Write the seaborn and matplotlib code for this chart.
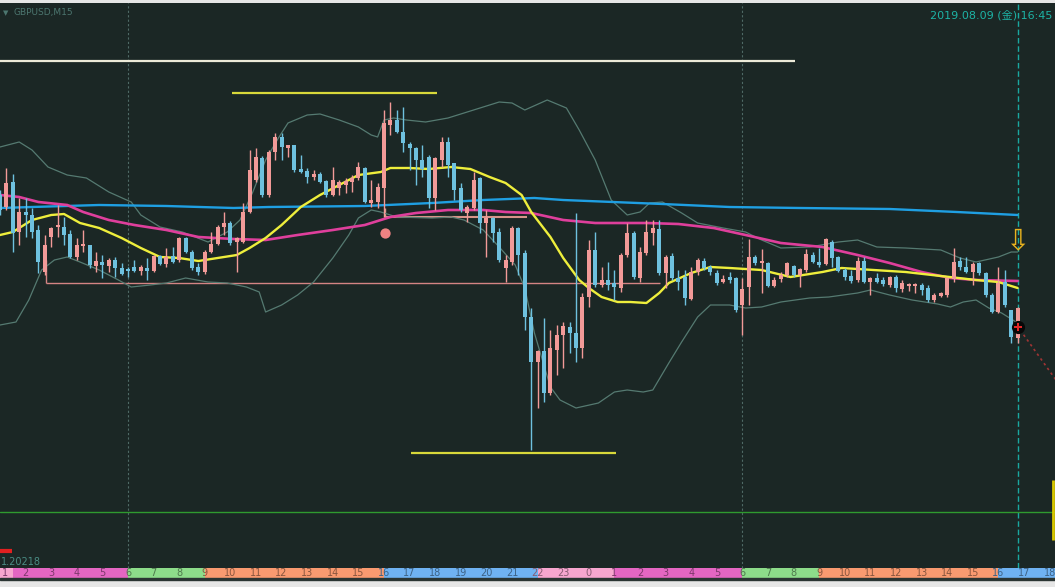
import numpy as np
import pandas as pd
import seaborn as sns
import matplotlib.pyplot as plt

# GBPUSD M15 : bar 0 = 08/08 01:00 ... bar 159 = 08/09 16:45
bar_open = [1.20805, 1.20793, 1.20818, 1.20768, 1.20788, 1.20785, 1.20770, 1.20728, 1.20763, 1.20773,
            1.20773, 1.20766, 1.20743, 1.20754, 1.20755, 1.20734, 1.20738, 1.20734, 1.20740, 1.20732,
            1.20731, 1.20733, 1.20729, 1.20732, 1.20729, 1.20744, 1.20736, 1.20744, 1.20740, 1.20762,
            1.20748, 1.20733, 1.20728, 1.20748, 1.20756, 1.20773, 1.20777, 1.20758, 1.20758, 1.20788,
            1.20820, 1.20842, 1.20805, 1.20848, 1.20863, 1.20852, 1.20855, 1.20831, 1.20829, 1.20823,
            1.20826, 1.20819, 1.20805, 1.20812, 1.20815, 1.20818, 1.20822, 1.20832, 1.20797, 1.20798,
            1.20812, 1.20875, 1.20880, 1.20868, 1.20856, 1.20852, 1.20840, 1.20843, 1.20802, 1.20840,
            1.20858, 1.20837, 1.20812, 1.20787, 1.20792, 1.20822, 1.20777, 1.20782, 1.20768, 1.20732,
            1.20738, 1.20772, 1.20747, 1.20683, 1.20638, 1.20649, 1.20607, 1.20650, 1.20665, 1.20673,
            1.20667, 1.20652, 1.20703, 1.20750, 1.20715, 1.20720, 1.20717, 1.20712, 1.20745, 1.20767,
            1.20722, 1.20747, 1.20767, 1.20771, 1.20727, 1.20744, 1.20722, 1.20723, 1.20701, 1.20728,
            1.20739, 1.20733, 1.20727, 1.20718, 1.20723, 1.20722, 1.20695, 1.20713, 1.20743, 1.20737,
            1.20737, 1.20714, 1.20721, 1.20725, 1.20734, 1.20725, 1.20730, 1.20745, 1.20738, 1.20736,
            1.20758, 1.20743, 1.20730, 1.20724, 1.20720, 1.20739, 1.20718, 1.20722, 1.20720, 1.20715,
            1.20723, 1.20711, 1.20714, 1.20714, 1.20715, 1.20712, 1.20700, 1.20704, 1.20705, 1.20721,
            1.20739, 1.20733, 1.20728, 1.20737, 1.20727, 1.20705, 1.20688, 1.20718, 1.20690, 1.20662]
bar_close = [1.20790, 1.20817, 1.20767, 1.20788, 1.20785, 1.20768, 1.20738, 1.20755, 1.20772, 1.20774,
             1.20765, 1.20743, 1.20755, 1.20755, 1.20735, 1.20739, 1.20735, 1.20740, 1.20732, 1.20726,
             1.20729, 1.20729, 1.20733, 1.20729, 1.20744, 1.20736, 1.20743, 1.20738, 1.20762, 1.20748,
             1.20732, 1.20728, 1.20748, 1.20756, 1.20773, 1.20777, 1.20757, 1.20762, 1.20788, 1.20830,
             1.20843, 1.20805, 1.20848, 1.20863, 1.20853, 1.20855, 1.20830, 1.20828, 1.20823, 1.20826,
             1.20818, 1.20805, 1.20820, 1.20818, 1.20819, 1.20822, 1.20833, 1.20798, 1.20800, 1.20813,
             1.20877, 1.20880, 1.20868, 1.20857, 1.20852, 1.20840, 1.20831, 1.20802, 1.20842, 1.20858,
             1.20835, 1.20810, 1.20790, 1.20793, 1.20820, 1.20777, 1.20782, 1.20767, 1.20740, 1.20740,
             1.20772, 1.20745, 1.20683, 1.20638, 1.20649, 1.20607, 1.20652, 1.20665, 1.20674, 1.20667,
             1.20652, 1.20703, 1.20750, 1.20715, 1.20720, 1.20715, 1.20713, 1.20745, 1.20767, 1.20723,
             1.20748, 1.20768, 1.20772, 1.20727, 1.20743, 1.20722, 1.20718, 1.20702, 1.20728, 1.20740,
             1.20732, 1.20728, 1.20717, 1.20721, 1.20720, 1.20690, 1.20711, 1.20743, 1.20737, 1.20739,
             1.20714, 1.20720, 1.20725, 1.20737, 1.20725, 1.20731, 1.20746, 1.20738, 1.20735, 1.20761,
             1.20742, 1.20729, 1.20723, 1.20719, 1.20739, 1.20718, 1.20722, 1.20718, 1.20716, 1.20723,
             1.20712, 1.20717, 1.20716, 1.20716, 1.20710, 1.20700, 1.20705, 1.20707, 1.20722, 1.20738,
             1.20733, 1.20728, 1.20736, 1.20727, 1.20705, 1.20688, 1.20717, 1.20695, 1.20663, 1.20692]
bar_high = [1.20810, 1.20832, 1.20826, 1.20802, 1.20802, 1.20792, 1.20775, 1.20765, 1.20773, 1.20795,
            1.20783, 1.20770, 1.20762, 1.20770, 1.20755, 1.20748, 1.20745, 1.20742, 1.20743, 1.20737,
            1.20733, 1.20740, 1.20735, 1.20742, 1.20745, 1.20745, 1.20752, 1.20753, 1.20763, 1.20763,
            1.20750, 1.20737, 1.20750, 1.20768, 1.20775, 1.20788, 1.20779, 1.20763, 1.20797, 1.20850,
            1.20852, 1.20844, 1.20850, 1.20867, 1.20867, 1.20855, 1.20855, 1.20845, 1.20832, 1.20830,
            1.20828, 1.20820, 1.20833, 1.20820, 1.20822, 1.20825, 1.20838, 1.20833, 1.20820, 1.20817,
            1.20890, 1.20898, 1.20890, 1.20893, 1.20858, 1.20853, 1.20855, 1.20845, 1.20843, 1.20863,
            1.20863, 1.20837, 1.20817, 1.20795, 1.20828, 1.20823, 1.20790, 1.20783, 1.20772, 1.20745,
            1.20774, 1.20773, 1.20750, 1.20692, 1.20650, 1.20682, 1.20670, 1.20675, 1.20678, 1.20678,
            1.20787, 1.20707, 1.20760, 1.20768, 1.20733, 1.20738, 1.20730, 1.20747, 1.20777, 1.20769,
            1.20753, 1.20780, 1.20780, 1.20780, 1.20745, 1.20747, 1.20730, 1.20730, 1.20733, 1.20742,
            1.20742, 1.20735, 1.20730, 1.20725, 1.20728, 1.20723, 1.20722, 1.20761, 1.20745, 1.20751,
            1.20738, 1.20723, 1.20728, 1.20738, 1.20735, 1.20732, 1.20751, 1.20748, 1.20752, 1.20762,
            1.20760, 1.20744, 1.20732, 1.20730, 1.20743, 1.20743, 1.20723, 1.20727, 1.20723, 1.20724,
            1.20725, 1.20720, 1.20717, 1.20717, 1.20717, 1.20715, 1.20707, 1.20708, 1.20723, 1.20752,
            1.20743, 1.20743, 1.20738, 1.20738, 1.20728, 1.20707, 1.20733, 1.20730, 1.20690, 1.20693]
bar_low = [1.20785, 1.20790, 1.20748, 1.20755, 1.20763, 1.20762, 1.20727, 1.20725, 1.20753, 1.20763,
           1.20755, 1.20742, 1.20740, 1.20748, 1.20732, 1.20728, 1.20722, 1.20728, 1.20723, 1.20725,
           1.20723, 1.20728, 1.20725, 1.20720, 1.20728, 1.20735, 1.20733, 1.20737, 1.20738, 1.20747,
           1.20730, 1.20725, 1.20726, 1.20747, 1.20755, 1.20765, 1.20755, 1.20728, 1.20757, 1.20787,
           1.20818, 1.20803, 1.20803, 1.20840, 1.20840, 1.20843, 1.20828, 1.20827, 1.20817, 1.20820,
           1.20817, 1.20803, 1.20804, 1.20805, 1.20807, 1.20808, 1.20820, 1.20797, 1.20793, 1.20792,
           1.20783, 1.20865, 1.20867, 1.20848, 1.20830, 1.20815, 1.20823, 1.20792, 1.20790, 1.20833,
           1.20823, 1.20800, 1.20788, 1.20778, 1.20790, 1.20767, 1.20743, 1.20758, 1.20738, 1.20718,
           1.20735, 1.20725, 1.20670, 1.20550, 1.20592, 1.20598, 1.20605, 1.20625, 1.20632, 1.20647,
           1.20638, 1.20642, 1.20693, 1.20713, 1.20713, 1.20710, 1.20700, 1.20708, 1.20743, 1.20721,
           1.20718, 1.20745, 1.20755, 1.20725, 1.20712, 1.20720, 1.20710, 1.20695, 1.20700, 1.20725,
           1.20730, 1.20725, 1.20715, 1.20717, 1.20717, 1.20688, 1.20665, 1.20695, 1.20735, 1.20707,
           1.20713, 1.20713, 1.20718, 1.20723, 1.20723, 1.20713, 1.20728, 1.20737, 1.20733, 1.20735,
           1.20733, 1.20728, 1.20720, 1.20717, 1.20718, 1.20717, 1.20705, 1.20717, 1.20714, 1.20713,
           1.20708, 1.20708, 1.20709, 1.20707, 1.20705, 1.20698, 1.20698, 1.20703, 1.20703, 1.20718,
           1.20730, 1.20727, 1.20715, 1.20725, 1.20703, 1.20687, 1.20687, 1.20693, 1.20657, 1.20657]

# moving averages / bands, read at bar positions
ma_fast_x = [0, 2, 5, 8, 10, 12.5, 15.5, 19, 22, 25, 28, 31, 34, 37, 39, 41.5, 44, 47, 50, 53, 56, 59.5,
             61, 64, 67, 70.5, 73.5, 76.5, 79, 81.5, 83, 86, 88, 90.5, 92, 94, 96.5, 98.5, 101, 103,
             104.5, 108, 111, 114, 119, 123.5, 128.5, 131.5, 136.5, 141.5, 147, 152.5, 156, 159]
ma_fast_y = [1.20765, 1.20768, 1.20780, 1.20785, 1.20786, 1.20777, 1.20772, 1.20762, 1.20752, 1.20743,
             1.20742, 1.20739, 1.20742, 1.20745, 1.20752, 1.20762, 1.20775, 1.20793, 1.20805, 1.20815,
             1.20825, 1.20828, 1.20832, 1.20832, 1.20831, 1.20833, 1.20831, 1.20823, 1.20817, 1.20805,
             1.20788, 1.20763, 1.20742, 1.20720, 1.20712, 1.20703, 1.20698, 1.20698, 1.20697, 1.20707,
             1.20717, 1.20727, 1.20733, 1.20732, 1.20730, 1.20723, 1.20728, 1.20732, 1.20730, 1.20728,
             1.20724, 1.20720, 1.20718, 1.20712]
ma_mid_x = [0, 3, 6, 10.5, 13, 17, 21, 26, 31, 36.5, 41.5, 46.5, 52, 57, 61, 65, 70, 75.5, 79, 83, 88,
            93, 101, 106, 111.5, 116.5, 122, 128.5, 134, 139, 144, 148.5, 152.5, 159]
ma_mid_y = [1.20805, 1.20803, 1.20798, 1.20795, 1.20788, 1.20780, 1.20775, 1.20770, 1.20763, 1.20761,
            1.20760, 1.20765, 1.20770, 1.20775, 1.20783, 1.20787, 1.20790, 1.20790, 1.20788, 1.20787,
            1.20780, 1.20777, 1.20777, 1.20776, 1.20772, 1.20765, 1.20757, 1.20753, 1.20745, 1.20737,
            1.20728, 1.20722, 1.20720, 1.20719]
ma_slow_x = [0, 5, 15.5, 26, 36.5, 42, 57, 67.5, 75.5, 83.5, 88, 103.5, 114, 125, 139, 149.5, 159]
ma_slow_y = [1.20792, 1.20793, 1.20795, 1.20794, 1.20792, 1.20793, 1.20794, 1.20797, 1.20800, 1.20802,
             1.20800, 1.20796, 1.20793, 1.20792, 1.20791, 1.20788, 1.20785]
bb_up_x = [0, 3, 5, 7.5, 10.5, 13.5, 17, 20.5, 22, 25, 28.5, 32.5, 35.5, 37.5, 39.5, 41.5, 43.5, 45,
           48, 50, 53, 56, 58, 59, 60, 61.5, 63.5, 66.5, 70, 74, 78, 80, 82, 85.5, 88.5, 90.5, 93,
           95.5, 98, 100, 101.5, 103.5, 106.5, 109, 113, 116.5, 119, 122, 126.5, 131, 134, 137,
           141.5, 147, 150, 152.5, 156, 158, 159]
bb_up_y = [1.20853, 1.20858, 1.20850, 1.20833, 1.20825, 1.20822, 1.20808, 1.20798, 1.20785, 1.20773,
           1.20768, 1.20758, 1.20768, 1.20780, 1.20808, 1.20840, 1.20862, 1.20877, 1.20885, 1.20886,
           1.20880, 1.20873, 1.20865, 1.20863, 1.20880, 1.20882, 1.20880, 1.20878, 1.20882, 1.20890,
           1.20898, 1.20897, 1.20890, 1.20900, 1.20892, 1.20870, 1.20840, 1.20800, 1.20785, 1.20788,
           1.20797, 1.20798, 1.20787, 1.20777, 1.20772, 1.20768, 1.20760, 1.20752, 1.20753, 1.20758,
           1.20760, 1.20753, 1.20752, 1.20750, 1.20742, 1.20738, 1.20743, 1.20748, 1.20748]
bb_lo_x = [0, 2.5, 4.5, 6.5, 8.5, 10.5, 12.5, 15.5, 18.5, 20.5, 23.5, 26, 29, 32.5, 35.5, 38.5, 40.5,
           41.5, 44, 46.5, 49, 52, 54.5, 56, 58, 59.5, 62, 67.5, 70.5, 72.5, 75.5, 78, 80.5, 82, 83.5,
           86, 87.5, 90, 93.5, 96, 98, 100.5, 102, 104.5, 106.5, 109, 111, 114, 116.5, 119, 122,
           126.5, 129.5, 134, 136, 139, 142.5, 146.5, 148.5, 150.5, 152.5, 154.5, 156.5, 159]
bb_lo_y = [1.20675, 1.20678, 1.20700, 1.20730, 1.20740, 1.20743, 1.20738, 1.20730, 1.20720, 1.20713,
           1.20715, 1.20717, 1.20722, 1.20718, 1.20717, 1.20713, 1.20708, 1.20688, 1.20695, 1.20705,
           1.20718, 1.20742, 1.20765, 1.20782, 1.20790, 1.20788, 1.20783, 1.20782, 1.20783, 1.20780,
           1.20770, 1.20753, 1.20735, 1.20712, 1.20667, 1.20613, 1.20600, 1.20592, 1.20597, 1.20608,
           1.20610, 1.20608, 1.20610, 1.20637, 1.20658, 1.20683, 1.20695, 1.20695, 1.20692, 1.20693,
           1.20698, 1.20702, 1.20703, 1.20707, 1.20710, 1.20705, 1.20700, 1.20696, 1.20693, 1.20698,
           1.20700, 1.20692, 1.20687, 1.20677]

# drawn objects
white_line = (1.20939, 0, 124.2)
yellow_top = (1.20907, 36.2, 68.3)
yellow_bottom = (1.20547, 64.2, 96.2)
green_line = 1.20488
range_low = (1.20717, 7.2, 103.1)
range_high = (1.20783, 60.2, 82.3)
dot_mark = (60.2, 1.20767)
arrow_mark = (159, 1.20759)
entry_mark = (159, 1.20673)
proj_x = [159.4, 166.0]
proj_y = [1.20670, 1.20611]
day_breaks = [20, 116]
now_bar = 159

hour_labels = ['1', '2', '3', '4', '5', '6', '7', '8', '9', '10', '11', '12', '13', '14', '15', '16',
               '17', '18', '19', '20', '21', '22', '23', '0', '1', '2', '3', '4', '5', '6', '7', '8',
               '9', '10', '11', '12', '13', '14', '15', '16', '17', '18']

sns.set_theme(style='dark')
plt.rcParams['font.family'] = ['DejaVu Sans', 'Noto Sans CJK JP']

BG = '#1b2725'
PINK = '#f29a98'
BLUE = '#6ec1df'

fig = plt.figure(figsize=(10.55, 5.87), dpi=100)
fig.patch.set_facecolor('#e6e6e6')
ax = fig.add_axes([0, 19 / 587, 1, 565 / 587])
ax.set_facecolor(BG)
for s in ax.spines.values():
    s.set_visible(False)
ax.set_xlim(0, 164.84)
ax.set_ylim(1.20432, 1.20997)
ax.set_xticks([])
ax.set_yticks([])
ax.grid(False)

# separators
for d in day_breaks:
    ax.axvline(d, color='#4f6a66', lw=0.8, ls=(0, (2, 2)), zorder=1)
ax.axvline(now_bar, color='#1aa8a0', lw=1.0, ls=(0, (4, 2)), zorder=1)

# horizontal objects
ax.hlines(white_line[0], white_line[1], white_line[2], color='#ecead8', lw=1.6, zorder=2)
ax.hlines(yellow_top[0], yellow_top[1], yellow_top[2], color='#d8d83a', lw=1.6, zorder=2)
ax.hlines(yellow_bottom[0], yellow_bottom[1], yellow_bottom[2], color='#d8d83a', lw=1.6, zorder=2)
ax.axhline(green_line, color='#2f9a2f', lw=1.0, zorder=2)
ax.hlines(range_low[0], range_low[1], range_low[2], color='#d48484', lw=1.0, zorder=2)
ax.vlines(range_low[1], range_low[0], 1.20740, color='#d48484', lw=1.0, zorder=2)
ax.hlines(range_high[0], range_high[1], range_high[2], color='#d8948a', lw=1.5, zorder=2)
ax.vlines(range_high[1], range_high[0], 1.20792, color='#d8948a', lw=1.0, zorder=2)

# bands and averages
lw_band = 0.9
sns.lineplot(x=bb_up_x, y=bb_up_y, ax=ax, color='#557a71', lw=lw_band, zorder=3)
sns.lineplot(x=bb_lo_x, y=bb_lo_y, ax=ax, color='#557a71', lw=lw_band, zorder=3)
sns.lineplot(x=ma_slow_x, y=ma_slow_y, ax=ax, color='#1f9fe2', lw=1.7, zorder=4)
sns.lineplot(x=ma_mid_x, y=ma_mid_y, ax=ax, color='#df3f9c', lw=1.9, zorder=4)
sns.lineplot(x=ma_fast_x, y=ma_fast_y, ax=ax, color='#eeee3c', lw=1.7, zorder=4)

# candles
o = np.array(bar_open)
c = np.array(bar_close)
h = np.array(bar_high)
l = np.array(bar_low)
xs = np.arange(len(o))
cols = np.where(c >= o, PINK, BLUE)
ax.vlines(xs, l, h, colors=cols, lw=1.0, zorder=5)
body = np.maximum(np.abs(c - o), 0.000018)
ax.bar(xs, body, bottom=np.minimum(o, c), width=0.64, color=cols, linewidth=0, zorder=6)

# marks
ax.scatter([dot_mark[0]], [dot_mark[1]], s=55, color='#f08282', zorder=7, linewidths=0)
ax.text(arrow_mark[0], arrow_mark[1], '\u21e9', color='#e8b21e', fontsize=21,
        ha='center', va='center', zorder=8)
ax.scatter([entry_mark[0]], [entry_mark[1]], s=90, color='#080808', zorder=7, linewidths=0)
ax.scatter([entry_mark[0]], [entry_mark[1]], s=28, marker='P', color='#e02828', zorder=8, linewidths=0)
ax.plot(proj_x, proj_y, color='#a03434', lw=1.2, ls=(0, (1.5, 2)), zorder=5)
ax.vlines(164.6, 1.20460, 1.20520, color='#d8c800', lw=2, zorder=5)

# price text at the bottom left
ax.hlines(1.20449, 0, 1.9, color='#e02020', lw=3, zorder=5)
ax.text(0.1, 1.20433, '1.20218', color='#4a8c84', fontsize=7, ha='left', va='bottom',
        clip_on=True, zorder=5)

fig.text(3 / 1055, 1 - 13 / 587, '\u25bc', color='#4c766f', fontsize=5, ha='left', va='center')
fig.text(14 / 1055, 1 - 13 / 587, 'GBPUSD,M15', color='#4c766f', fontsize=6.5, ha='left', va='center')
fig.text(1052 / 1055, 1 - 15 / 587, '2019.08.09 (金) 16:45', color='#1db3a5', fontsize=8,
         ha='right', va='center')

# time scale strip with session colours
session_col = {'late': '#f7a6cf', 'asia': '#e466c2', 'pre': '#8ddc8a', 'london': '#f99a70', 'ny': '#6fb2f2'}
hour_session = {}
for hr in range(24):
    if hr in (22, 23, 0):
        hour_session[hr] = 'late'
    elif hr < 6:
        hour_session[hr] = 'asia'
    elif hr < 9:
        hour_session[hr] = 'pre'
    elif hr < 16:
        hour_session[hr] = 'london'
    else:
        hour_session[hr] = 'ny'

axt = fig.add_axes([0, 9 / 587, 1, 10 / 587])
axt.set_xlim(0, 164.84)
axt.set_ylim(0, 1)
axt.axis('off')
axt.axvspan(0, 2, color=session_col['late'], lw=0)
for k, lab in enumerate(hour_labels):
    col = session_col[hour_session[int(lab)]]
    axt.axvspan(max(4 * k, 2 if k == 0 else 0), 4 * k + 4, color=col, lw=0)
for k, lab in enumerate(hour_labels):
    col = session_col[hour_session[int(lab)]]
    dark = tuple(v * 0.55 for v in plt.matplotlib.colors.to_rgb(col))
    xpos, ha = (0.3, 'left') if k == 0 else (4 * k, 'center')
    axt.text(xpos, 0.45, lab, color=dark, fontsize=7, ha=ha, va='center')

fig.patches.append(plt.Rectangle((0, 7 / 587), 1, 2 / 587, transform=fig.transFigure,
                                 color='#2a3432', zorder=0))

plt.savefig('out.png', dpi=100, facecolor=fig.get_facecolor())
